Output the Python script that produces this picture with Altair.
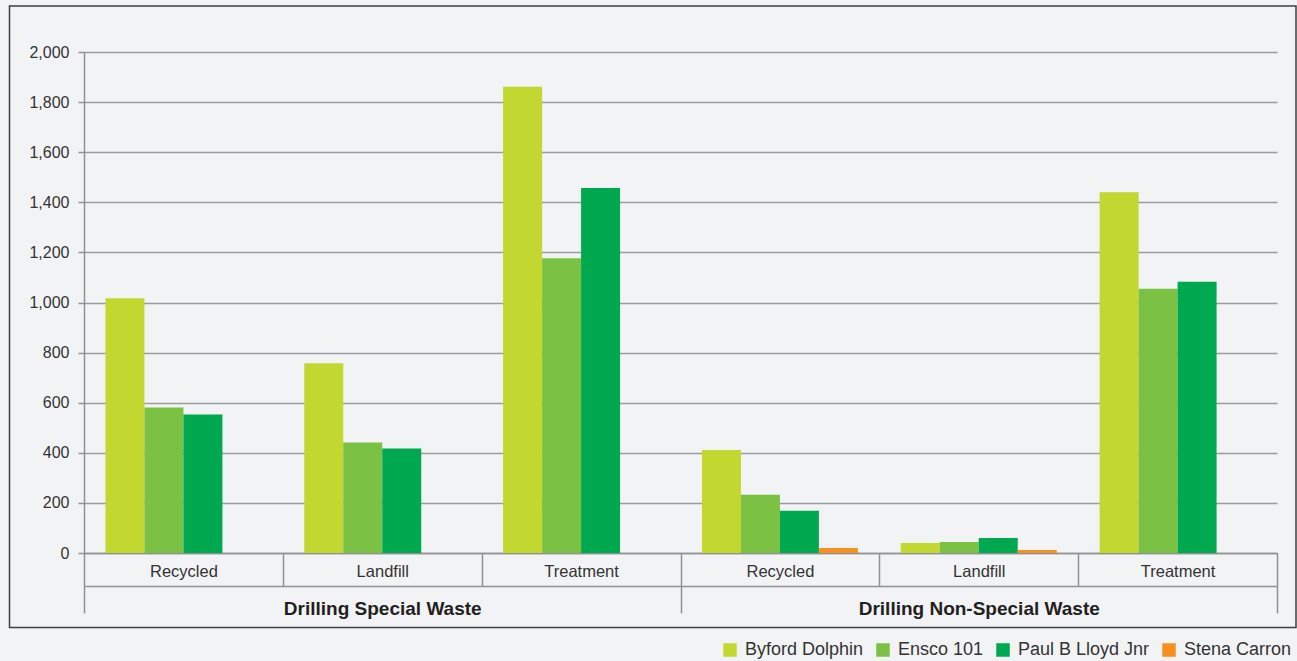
import altair as alt
import pandas as pd

# Waste streams (outer group) and disposal routes (inner category)
groups = ["Drilling Special Waste", "Drilling Non-Special Waste"]
routes = ["Recycled", "Landfill", "Treatment"]

rigs = ["Byford Dolphin", "Ensco 101", "Paul B Lloyd Jnr", "Stena Carron"]
rig_colors = ["#c2d72f", "#7bc143", "#00a94f", "#f7901e"]

# Tonnes per rig, in the order group x route (None = no entry)
byford = [1017, 757, 1861, 411, 40, 1440]
ensco = [581, 441, 1177, 233, 44, 1055]
paul = [553, 417, 1457, 169, 60, 1083]
stena = [None, None, None, 20, 12, None]

y_ticks = list(range(0, 2001, 200))

FONT = "Liberation Sans"
TEXT = "#333333"
LINE = "#8f9194"
GRID = "#9b9c9f"
BG = "#f2f3f5"

keys = [f"{g}|{r}" for g in groups for r in routes]
series = dict(zip(rigs, [byford, ensco, paul, stena]))
rows = []
for i, key in enumerate(keys):
    for rig in rigs:
        v = series[rig][i]
        if v is not None:
            rows.append({"key": key, "rig": rig, "value": v})
df = pd.DataFrame(rows)

route_axis = alt.Axis(
    title=None,
    orient="bottom",
    labelExpr="isDefined(datum.value) ? split(datum.value, '|')[1] : ''",
    labelAngle=0,
    labelFont=FONT,
    labelFontSize=16.5,
    labelColor=TEXT,
    labelPadding=-23,
    tickBand="extent",
    tickSize=33,
    tickColor=LINE,
    tickWidth=1.5,
    domainColor=LINE,
    domainWidth=1.5,
    grid=False,
)

group_axis = alt.Axis(
    title=None,
    orient="bottom",
    offset=33,
    labelExpr="isDefined(datum.value) && split(datum.value, '|')[1] == 'Landfill' ? split(datum.value, '|')[0] : ''",
    labelAngle=0,
    labelFont=FONT,
    labelFontSize=19,
    labelFontWeight="bold",
    labelColor="#231f20",
    labelPadding=-14,
    labelLimit=500,
    tickBand="extent",
    tickSize=27,
    tickColor=LINE,
    tickWidth=1.5,
    tickOpacity={
        "condition": {
            "test": "!isDefined(datum.value) || split(datum.value, '|')[1] == 'Treatment'",
            "value": 1,
        },
        "value": 0,
    },
    domainColor=LINE,
    domainWidth=1.5,
    grid=False,
)

x_scale = alt.Scale(paddingInner=0, paddingOuter=0)

bars = alt.Chart(df).mark_bar().encode(
    x=alt.X("key:N", sort=keys, scale=x_scale, axis=route_axis),
    xOffset=alt.XOffset("rig:N", sort=rigs, scale=alt.Scale(paddingInner=0, paddingOuter=0.55)),
    y=alt.Y(
        "value:Q",
        scale=alt.Scale(domain=[0, 2000], nice=False),
        axis=alt.Axis(
            title=None,
            values=y_ticks,
            format=",.0f",
            grid=True,
            gridColor=GRID,
            gridWidth=1.5,
            domainColor=LINE,
            domainWidth=1.5,
            tickSize=6,
            tickColor=LINE,
            tickWidth=1.5,
            labelPadding=9,
            labelFont=FONT,
            labelFontSize=16,
            labelColor=TEXT,
        ),
    ),
    color=alt.Color(
        "rig:N",
        sort=rigs,
        title=None,
        scale=alt.Scale(domain=rigs, range=rig_colors),
        legend=alt.Legend(
            orient="none",
            legendX=637,
            legendY=589,
            direction="horizontal",
            symbolType="square",
            symbolSize=182,
            symbolStrokeWidth=0,
            labelFont=FONT,
            labelFontSize=18,
            labelColor=TEXT,
            labelOffset=6,
            columnPadding=10,
            padding=0,
        ),
    ),
)

# Second band axis carrying the waste-stream names beneath the routes
groups_layer = alt.Chart(df).mark_tick(opacity=0).encode(
    x=alt.X("key:N", sort=keys, scale=x_scale, axis=group_axis),
)

# Outer frame around the plot panel
frame = alt.Chart(pd.DataFrame({"f": [0]})).mark_rect(
    fillOpacity=0, stroke="#3f3f3f", strokeWidth=1.5
).encode(
    x=alt.value(-74.5),
    x2=alt.value(1212),
    y=alt.value(-46),
    y2=alt.value(575.5),
)

chart = (
    alt.layer(bars, groups_layer, frame)
    .resolve_axis(x="independent")
    .properties(
        width=1193,
        height=501,
        padding={"left": 84, "top": 52, "right": 20, "bottom": 108},
        autosize=alt.AutoSizeParams(type="none"),
        background=BG,
    )
    .configure_view(strokeWidth=0)
)

chart.save("out.html", embed_options={"renderer": "svg", "actions": False})
